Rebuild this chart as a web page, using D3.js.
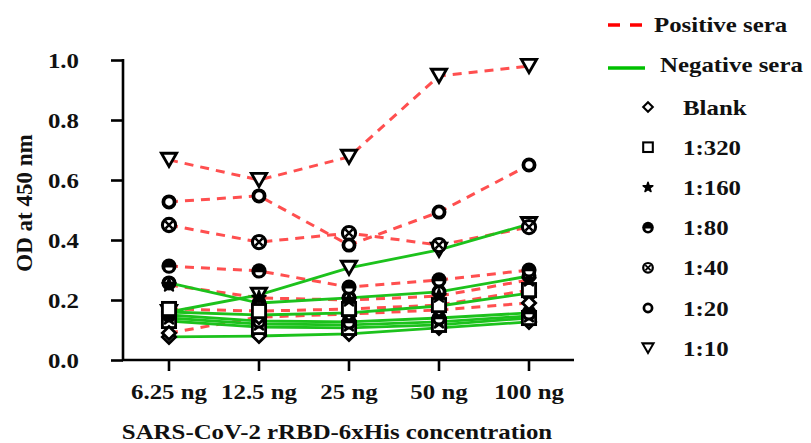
<!DOCTYPE html>
<html>
<head>
<meta charset="utf-8">
<script src="https://cdn.jsdelivr.net/npm/d3@7"></script>
<style>
  body { margin: 0; background: #fff; }
  text { font-family: "Liberation Serif", "Times New Roman", serif; font-weight: bold; fill: #111; }
</style>
</head>
<body>
<div id="chart"></div>
<script>
// x categories and legend entries
var concentrations = ["6.25 ng", "12.5 ng", "25 ng", "50 ng", "100 ng"];
var dilutions = ["Blank", "1:320", "1:160", "1:80", "1:40", "1:20", "1:10"];
var yTicks = [0, 0.2, 0.4, 0.6, 0.8, 1.0];

// positive sera (red dashed), OD at 450 nm per concentration
var posBlank = [0.090, 0.143, 0.153, 0.167, 0.190];
var pos320   = [0.170, 0.163, 0.170, 0.183, 0.233];
var pos160   = [0.250, 0.207, 0.200, 0.213, 0.267];
var pos80    = [0.313, 0.297, 0.243, 0.267, 0.300];
var pos40    = [0.450, 0.393, 0.423, 0.383, 0.443];
var pos20    = [0.527, 0.547, 0.383, 0.493, 0.650];
var pos10    = [0.667, 0.600, 0.677, 0.947, 0.980];

// negative sera (green solid)
var negBlank = [0.077, 0.080, 0.087, 0.107, 0.127];
var neg320   = [0.130, 0.110, 0.107, 0.117, 0.140];
var neg160   = [0.140, 0.120, 0.117, 0.127, 0.147];
var neg80    = [0.150, 0.130, 0.127, 0.140, 0.157];
var neg40    = [0.160, 0.150, 0.157, 0.180, 0.223];
var neg20    = [0.257, 0.190, 0.207, 0.227, 0.280];
var neg10    = [0.160, 0.217, 0.307, 0.367, 0.453];

var positive = [posBlank, pos320, pos160, pos80, pos40, pos20, pos10];
var negative = [negBlank, neg320, neg160, neg80, neg40, neg20, neg10];

var W = 811, H = 443;
var SX = 1.13;       // glyphs in the reference are a bit wide
var FONT = 22;
var RED = "#ff4f4f", GREEN = "#1cc21c";

var svg = d3.select("#chart").append("svg")
    .attr("width", W).attr("height", H);

var x = d3.scaleBand().domain(concentrations).range([124, 574]);
var y = d3.scaleLinear().domain([0, 1]).range([360, 60]);
function cx(i) { return x(concentrations[i]) + x.bandwidth() / 2; }

function label(g, px, py, txt, anchor, size) {
    return g.append("text")
        .attr("transform", "translate(" + px + "," + py + ") scale(" + SX + ",1)")
        .attr("text-anchor", anchor || "start")
        .style("font-size", (size || FONT) + "px")
        .text(txt);
}

// axes
var yAxis = svg.append("g").attr("transform", "translate(123,0)")
    .call(d3.axisLeft(y).tickValues(yTicks).tickSize(12).tickSizeOuter(0).tickFormat(""));
var xAxis = svg.append("g").attr("transform", "translate(0,360)")
    .call(d3.axisBottom(x).tickSize(11).tickSizeOuter(0).tickFormat(""));
svg.selectAll(".domain, .tick line").attr("stroke", "#000").attr("stroke-width", 2.6);
xAxis.select(".domain").attr("d", "M122,0H574");
yAxis.select(".domain").attr("d", "M0,59V361");

yTicks.forEach(function(t) { label(svg, 79, y(t) + 8, d3.format(".1f")(t), "end"); });
concentrations.forEach(function(c, i) { label(svg, cx(i), 399, c, "middle"); });
label(svg, 337, 439, "SARS-CoV-2 rRBD-6xHis concentration", "middle");
svg.append("text")
    .attr("transform", "translate(32,203) rotate(-90)")
    .attr("text-anchor", "middle")
    .style("font-size", "23px")
    .text("OD at 450 nm");

// markers
function marker(g, type, s) {
    var r = 6 * s;
    if (type === "Blank") {
        g.append("path").attr("d", "M0," + (-r) + "L" + r + ",0L0," + r + "L" + (-r) + ",0Z")
            .attr("fill", "#fff").attr("stroke", "#000").attr("stroke-width", 2.6 * s);
    } else if (type === "1:320") {
        g.append("rect").attr("x", -r).attr("y", -r).attr("width", 2 * r).attr("height", 2 * r)
            .attr("fill", "#fff").attr("stroke", "#000").attr("stroke-width", 2.6 * s);
    } else if (type === "1:160") {
        g.append("path").attr("d", d3.symbol(d3.symbolStar, 45 * s * s)())
            .attr("fill", "#000").attr("stroke", "#000").attr("stroke-width", 2 * s)
            .attr("stroke-linejoin", "round");
    } else if (type === "1:80") {
        g.append("circle").attr("r", r + 1).attr("fill", "#000");
        g.append("path").attr("d", "M" + (-r * 0.55) + "," + (r * 0.2) + "A" + (r * 0.55) + "," + (r * 0.5) + " 0 0,0 " + (r * 0.55) + "," + (r * 0.2) + "Z")
            .attr("fill", "#fff");
    } else if (type === "1:40") {
        g.append("circle").attr("r", r).attr("fill", "#fff").attr("stroke", "#000").attr("stroke-width", 2.8 * s);
        var k = r * 0.55;
        g.append("path").attr("d", "M" + (-k) + "," + (-k) + "L" + k + "," + k + "M" + (-k) + "," + k + "L" + k + "," + (-k))
            .attr("stroke", "#000").attr("stroke-width", 2.2 * s);
    } else if (type === "1:20") {
        g.append("circle").attr("r", r * 0.85).attr("fill", "#fff").attr("stroke", "#000").attr("stroke-width", 3.4 * s);
    } else if (type === "1:10") {
        g.append("path").attr("d", "M" + (-r * 1.15) + "," + (-r) + "L" + (r * 1.15) + "," + (-r) + "L0," + r + "Z")
            .attr("fill", "#fff").attr("stroke", "#000").attr("stroke-width", 2.6 * s).attr("stroke-linejoin", "miter");
    }
}

var line = d3.line().x(function(d, i) { return cx(i); }).y(function(d) { return y(d); });

svg.append("g").selectAll("path").data(positive).enter().append("path")
    .attr("d", line).attr("fill", "none")
    .attr("stroke", RED).attr("stroke-width", 3).attr("stroke-dasharray", "9,7");
svg.append("g").selectAll("path").data(negative).enter().append("path")
    .attr("d", line).attr("fill", "none")
    .attr("stroke", GREEN).attr("stroke-width", 2.8);

[negative, positive].forEach(function(group) {
    group.forEach(function(series, si) {
        series.forEach(function(v, i) {
            var g = svg.append("g").attr("transform", "translate(" + cx(i) + "," + y(v) + ")");
            marker(g, dilutions[si], 1.1);
        });
    });
});

// legend
var lg = svg.append("g");
lg.append("line").attr("x1", 608).attr("x2", 643).attr("y1", 25).attr("y2", 25)
    .attr("stroke", "#ff0000").attr("stroke-width", 3.5).attr("stroke-dasharray", "12,10");
label(lg, 654, 32, "Positive sera", "start");
lg.append("line").attr("x1", 608).attr("x2", 645).attr("y1", 68).attr("y2", 68)
    .attr("stroke", "#00c000").attr("stroke-width", 3.5);
label(lg, 660, 72, "Negative sera", "start");

dilutions.forEach(function(d, i) {
    var ry = 107 + i * 40.2;
    var g = lg.append("g").attr("transform", "translate(648," + ry + ")");
    marker(g, d, 0.8);
    label(lg, 683, ry + 7.5, d, "start");
});
</script>
</body>
</html>
